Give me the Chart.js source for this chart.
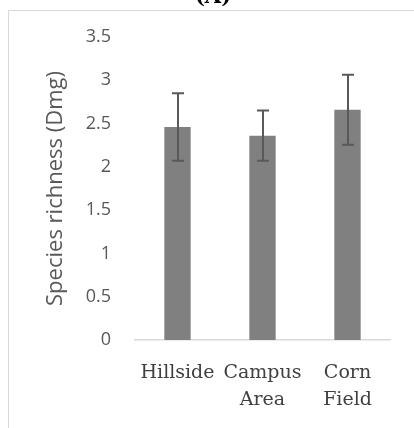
<!DOCTYPE html>
<html>
<head>
<meta charset="utf-8">
<script src="https://cdn.jsdelivr.net/npm/chart.js@4/dist/chart.umd.min.js"></script>
<style>
  html, body { margin: 0; padding: 0; background: #fff; }
  #wrap { width: 414px; height: 428px; position: relative; }
</style>
</head>
<body>
<div id="wrap"><canvas id="richnessChart" width="414" height="428"></canvas></div>
<script>
const sites = [["Hillside"], ["Campus", "Area"], ["Corn", "Field"]];
const richness = [2.46, 2.36, 2.66];
const richnessErr = [0.39, 0.29, 0.405];
const yTicks = [0, 0.5, 1, 1.5, 2, 2.5, 3, 3.5];

// frame + clipped panel letter
const framePlugin = {
    id: "frame",
    beforeDraw(chart) {
        const ctx = chart.ctx;
        ctx.save();
        ctx.strokeStyle = "#d9d9d9";
        ctx.lineWidth = 1;
        ctx.beginPath();
        ctx.moveTo(8.5, 428);
        ctx.lineTo(8.5, 10.5);
        ctx.lineTo(414, 10.5);
        ctx.stroke();
        ctx.fillStyle = "#000";
        ctx.font = "bold 21px 'DejaVu Serif'";
        ctx.textAlign = "center";
        ctx.textBaseline = "alphabetic";
        ctx.fillText("(A)", 213, 3);
        ctx.restore();
    }
};

// error bars drawn through the y scale
const errorBarPlugin = {
    id: "errorBars",
    afterDatasetsDraw(chart) {
        const ctx = chart.ctx;
        const yScale = chart.scales.y;
        const meta = chart.getDatasetMeta(0);
        ctx.save();
        ctx.strokeStyle = "#595959";
        ctx.lineWidth = 2;
        meta.data.forEach((bar, i) => {
            const x = Math.round(bar.x);
            const hi = yScale.getPixelForValue(richness[i] + richnessErr[i]);
            const lo = yScale.getPixelForValue(richness[i] - richnessErr[i]);
            ctx.beginPath();
            ctx.moveTo(x, hi);
            ctx.lineTo(x, lo);
            ctx.moveTo(x - 6, hi);
            ctx.lineTo(x + 6, hi);
            ctx.moveTo(x - 6, lo);
            ctx.lineTo(x + 6, lo);
            ctx.stroke();
        });
        ctx.restore();
    }
};

new Chart(document.getElementById("richnessChart").getContext("2d"), {
    type: "bar",
    data: {
        labels: sites,
        datasets: [
            {
                label: "Species richness",
                data: richness,
                backgroundColor: "#808080",
                borderWidth: 0,
                categoryPercentage: 1,
                barPercentage: 0.31,
            },
        ],
    },
    options: {
        responsive: false,
        animation: false,
        layout: {
            padding: { top: 37, right: 24, left: 0, bottom: 0 },
        },
        scales: {
            x: {
                grid: { display: false, drawTicks: false },
                border: { color: "#d9d9d9", width: 1.5 },
                ticks: {
                    color: "#404040",
                    font: { family: "'DejaVu Serif'", size: 19, lineHeight: 1.45 },
                    padding: 19,
                    maxRotation: 0,
                    autoSkip: false,
                },
                afterFit: (scale) => { scale.height = 88; },
            },
            y: {
                min: 0,
                max: 3.5,
                afterBuildTicks: (scale) => { scale.ticks = yTicks.map(v => ({value: v})); },
                grid: { display: false, drawTicks: false },
                border: { display: false },
                ticks: {
                    color: "#595959",
                    font: { family: "'Open Sans'", size: 18 },
                    padding: 24,
                    callback: (v) => String(v),
                },
                title: {
                    display: true,
                    text: "Species richness (Dmg)",
                    color: "#595959",
                    font: { family: "'Open Sans'", size: 22 },
                    padding: { top: 43, bottom: 0 },
                },
                afterFit: (scale) => { scale.width = 135; },
            },
        },
        plugins: {
            legend: { display: false },
            tooltip: { enabled: false },
        },
    },
    plugins: [framePlugin, errorBarPlugin],
});
</script>
</body>
</html>
